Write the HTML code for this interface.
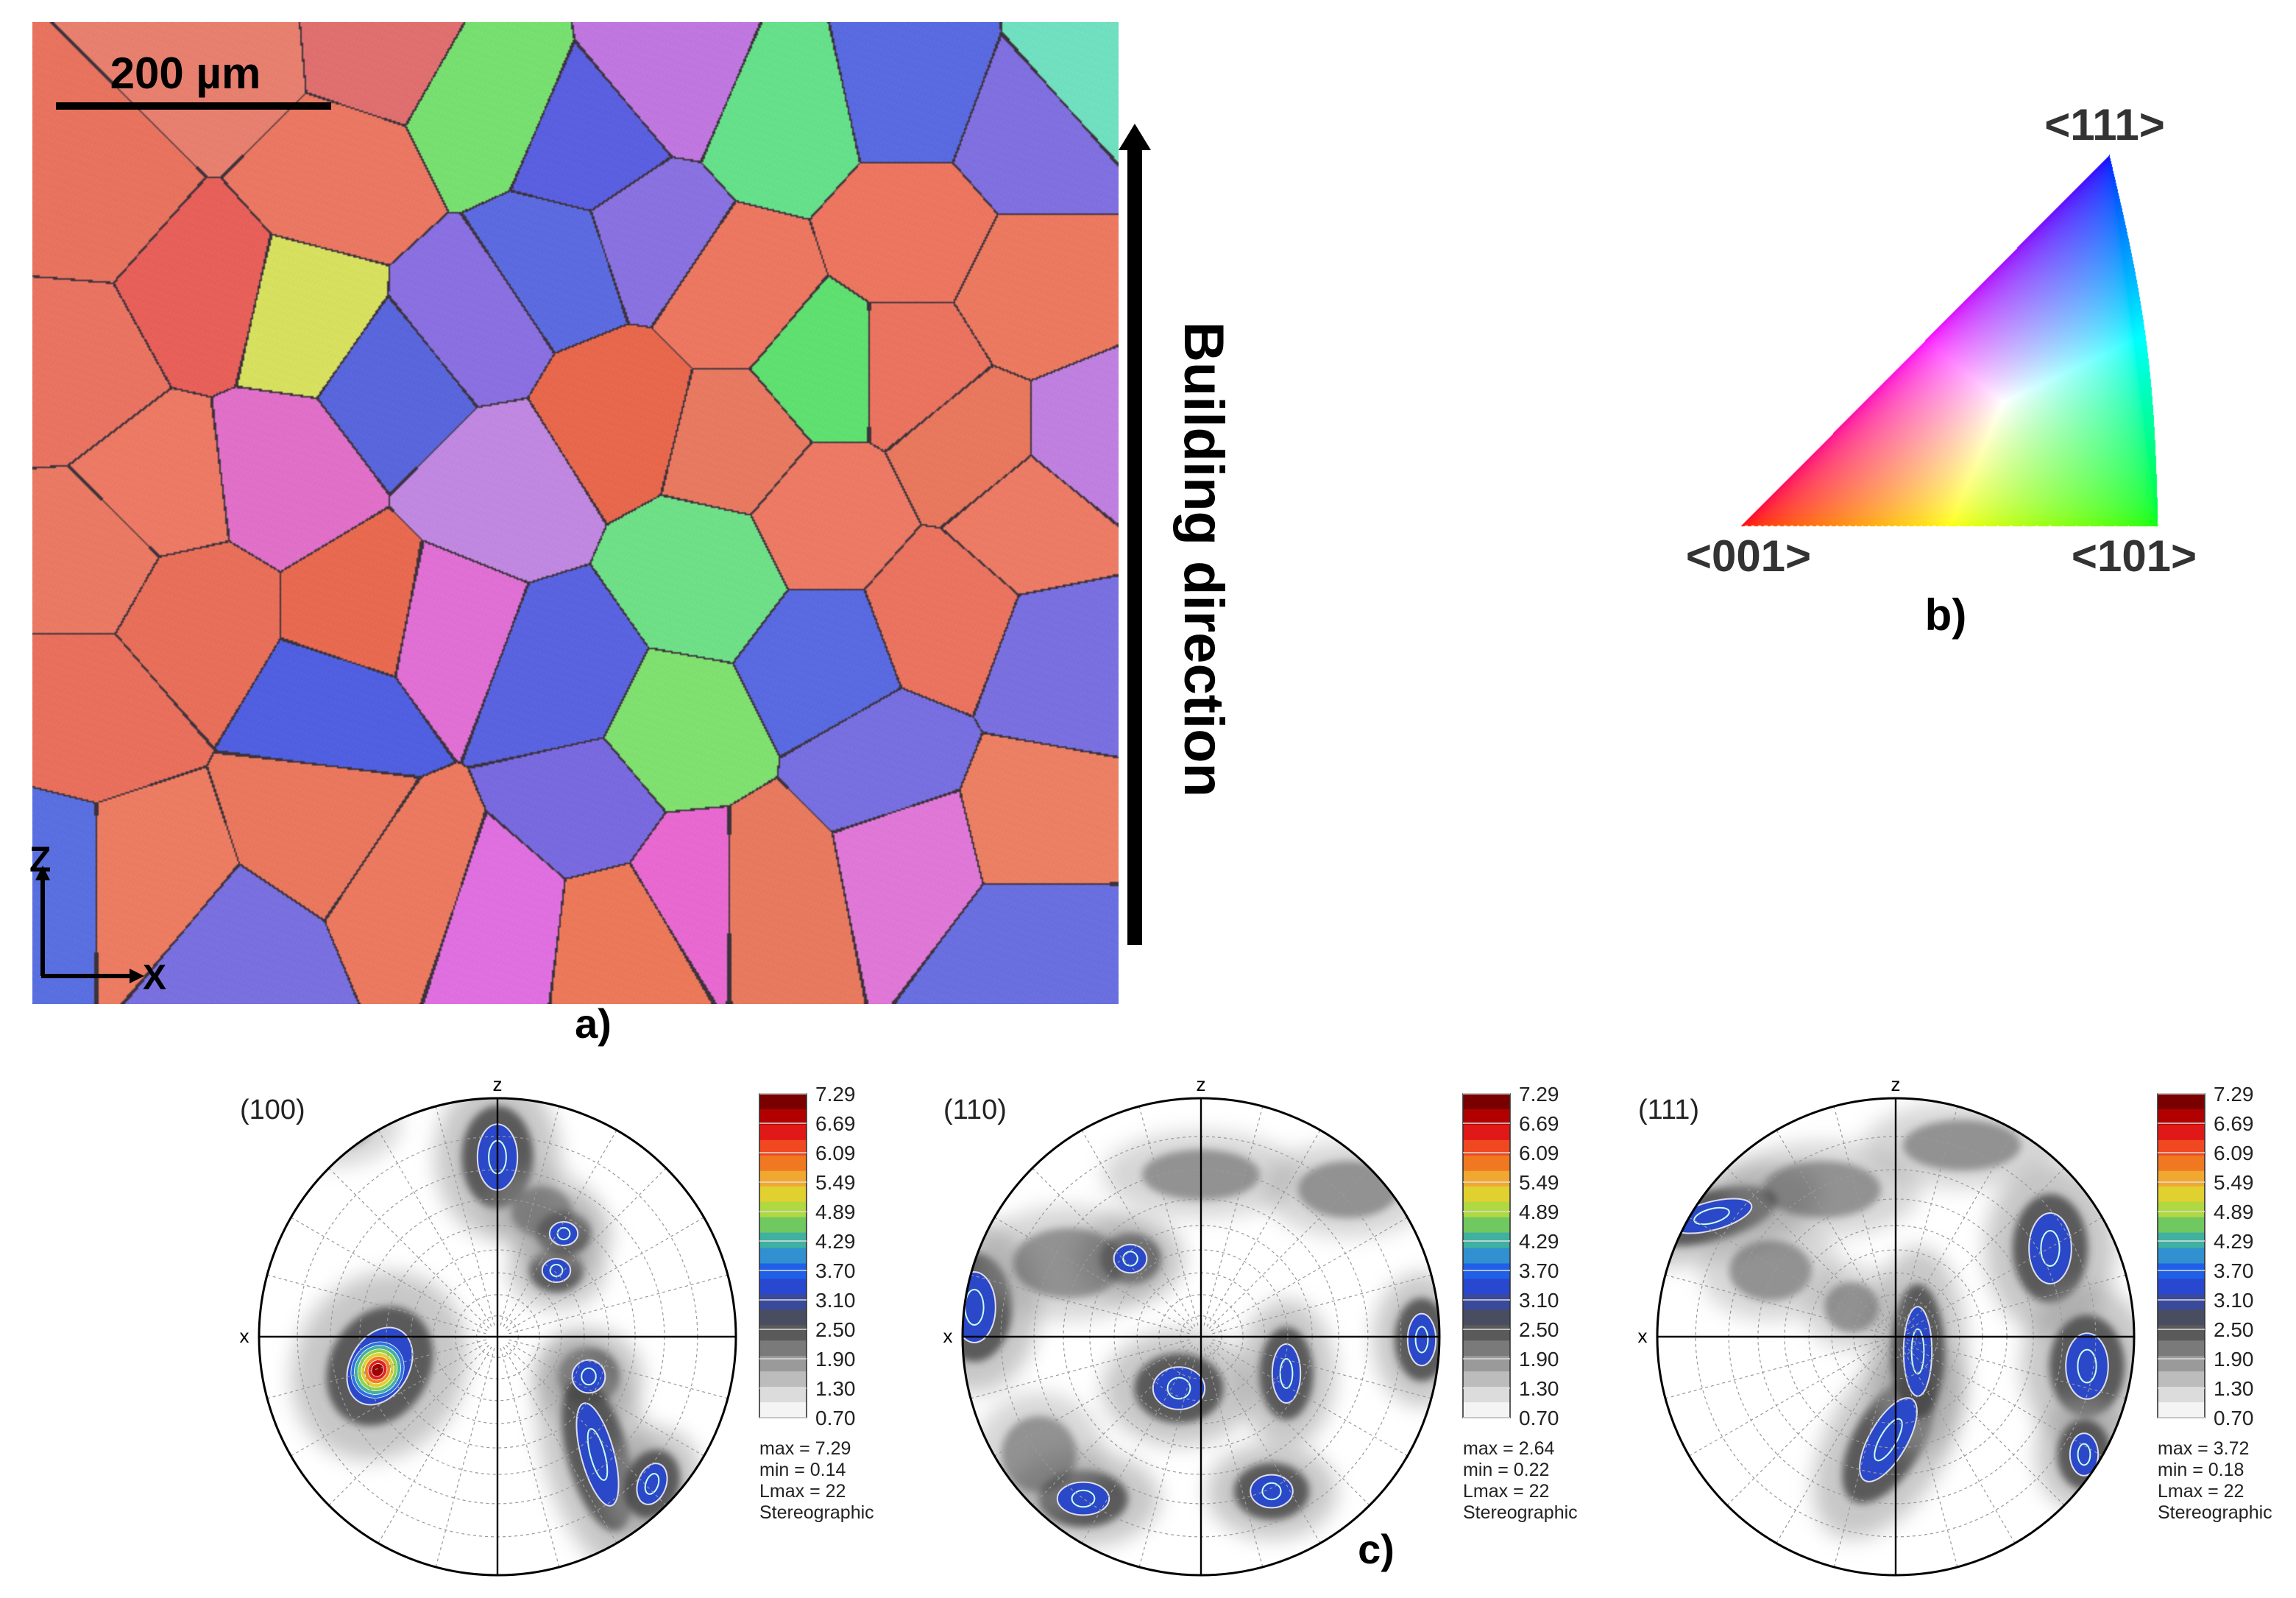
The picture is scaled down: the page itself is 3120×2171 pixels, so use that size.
<!DOCTYPE html>
<html><head><meta charset="utf-8"><style>
html,body{margin:0;padding:0;background:#fff;}
#wrap{position:relative;width:3120px;height:2171px;overflow:hidden;}
#ebsd{position:absolute;left:44px;top:30px;width:1476px;height:1334px;}
#ipf{position:absolute;left:2360px;top:200px;width:580px;height:520px;}
#svg{position:absolute;left:0;top:0;}
text{font-family:"Liberation Sans",sans-serif;}
</style></head><body>
<div id="wrap">
<canvas id="ebsd" width="738" height="667"></canvas>
<canvas id="ipf" width="580" height="520"></canvas>
<svg id="svg" width="3120" height="2171" viewBox="0 0 1560 1085.5" xmlns="http://www.w3.org/2000/svg">
<defs>
<filter id="blur6" x="-50%" y="-50%" width="200%" height="200%"><feGaussianBlur stdDeviation="7"/></filter>
<filter id="blur3" x="-50%" y="-50%" width="200%" height="200%"><feGaussianBlur stdDeviation="2.5"/></filter>
</defs>
<g>
<line x1="38" y1="72" x2="225" y2="72" stroke="#000" stroke-width="5"/>
<text x="126" y="60" font-size="30" font-weight="bold" text-anchor="middle" fill="#000">200 µm</text>
</g>
<g>
<line x1="29" y1="595" x2="29" y2="663" stroke="#000" stroke-width="3"/>
<line x1="28" y1="663" x2="92" y2="663" stroke="#000" stroke-width="3"/>
<polygon points="29,588 24,598 34,598" fill="#000"/>
<polygon points="98,663 88,658 88,668" fill="#000"/>
<text x="20" y="592" font-size="24" font-weight="bold" fill="#000">Z</text>
<text x="97" y="672" font-size="24" font-weight="bold" fill="#000">X</text>
</g>
<text x="403" y="705" font-size="28" font-weight="bold" text-anchor="middle" fill="#000">a)</text>
<g>
<line x1="771" y1="100" x2="771" y2="642" stroke="#000" stroke-width="10"/>
<polygon points="771,84 760,102 782,102" fill="#000"/>
<text transform="translate(805,380) rotate(90)" font-size="38" font-weight="bold" text-anchor="middle" fill="#000">Building direction</text>
</g>
<g>
<text x="1430" y="95" font-size="30" font-weight="bold" text-anchor="middle" fill="#333">&lt;111&gt;</text>
<text x="1188" y="388" font-size="30" font-weight="bold" text-anchor="middle" fill="#333">&lt;001&gt;</text>
<text x="1450" y="388" font-size="30" font-weight="bold" text-anchor="middle" fill="#333">&lt;101&gt;</text>
<text x="1322" y="428" font-size="30" font-weight="bold" text-anchor="middle" fill="#000">b)</text>
</g>
<g id="pfs"></g>
<text x="935" y="1062" font-size="28" font-weight="bold" text-anchor="middle" fill="#000">c)</text>
</svg>
</div>
<script>
// ---- EBSD grain map seeds (display coords) ----
const grainX=[60,140,110,60,100,220,250,190,230,330,380,320,270,400,460,530,620,700,700,620,500,420,340,300,230,205,480,560,560,640,700,720,460,400,420,520,620,700,700,340,280,160,60,50,620,440,745,500,130,560,660,150,380,600,740,30,260,470];
const grainY=[130,200,330,480,600,560,420,320,120,70,180,220,260,100,50,80,60,90,200,250,200,280,330,430,480,215,390,350,450,420,350,450,500,550,630,600,580,560,640,620,600,650,380,250,160,160,50,300,420,250,300,40,460,520,300,600,30,600];
const grainC=["#e8735e","#e8605a","#ec7a64","#e8705c","#ec7c62","#ea785e","#e86a50","#e070c8","#ea7862","#78e070","#5c6ce0","#8a70e0","#5a66dc","#5a60e0","#c078e0","#66e08a","#5a6ae0","#8070e0","#ec7a60","#ea7460","#ec7862","#e8684e","#c088e0","#e070d4","#5060e0","#d8e060","#70e088","#ec7a64","#5a6ae0","#ea7460","#ec7c66","#7a70e0","#80e070","#7a6ae0","#ec7a5a","#e87a60","#e078d8","#ec8064","#6a70e0","#e070e0","#ec7a60","#7a70e0","#ea7a64","#ea7462","#ec7660","#8a72e0","#70e0c0","#e87a62","#e8705a","#60e070","#e8785e","#e88070","#5a64e0","#7870e0","#c080e0","#5a70e0","#e07070","#e86ad0"];
(function(){
const cv=document.getElementById('ebsd'),ctx=cv.getContext('2d');
const W=cv.width,H=cv.height,img=ctx.createImageData(W,H),d=img.data;
const n=grainX.length,cols=grainC.map(h=>[parseInt(h.substr(1,2),16),parseInt(h.substr(3,2),16),parseInt(h.substr(5,2),16)]);
const sx=grainX.map(v=>v-22),sy=grainY.map(v=>v-15);
for(let y=0;y<H;y++){for(let x=0;x<W;x++){
 const px=x*738/W,py=y*667/H;let b1=1e9,b2=1e9,bi=0;
 for(let i=0;i<n;i++){const dx=px-sx[i],dy=py-sy[i];const q=dx*dx+dy*dy;if(q<b1){b2=b1;b1=q;bi=i;}else if(q<b2)b2=q;}
 const edge=(Math.sqrt(b2)-Math.sqrt(b1))<1.2;const c=cols[bi];const o=(y*W+x)*4;
 const sh=((x*7+y*13)%17)/17*10-5;
 d[o]=edge?60:Math.min(255,c[0]+sh);d[o+1]=edge?50:Math.min(255,c[1]+sh);d[o+2]=edge?60:Math.min(255,c[2]+sh);d[o+3]=255;}}
ctx.putImageData(img,0,0);
})();
// ---- IPF triangle (display coords, canvas origin 1180,100, scale 2) ----
(function(){
const cv=document.getElementById('ipf'),ctx=cv.getContext('2d');
const W=cv.width,H=cv.height,img=ctx.createImageData(W,H),d=img.data;
const A=[1183,357],B=[1466,357],C=[1433,105];
const den=(B[1]-C[1])*(A[0]-C[0])+(C[0]-B[0])*(A[1]-C[1]);
for(let y=0;y<H;y++)for(let x=0;x<W;x++){
 const px=1180+x/2,py=100+y/2;
 let a=((B[1]-C[1])*(px-C[0])+(C[0]-B[0])*(py-C[1]))/den;
 let b=((C[1]-A[1])*(px-C[0])+(A[0]-C[0])*(py-C[1]))/den;
 let c=1-a-b;
 // allow slight bulge on right edge
 const bulge=a<0&&a>-0.03*Math.sin(Math.PI*Math.max(0,Math.min(1,c)));
 if((a<0&&!bulge)||b<0||c<0)continue;
 a=Math.max(a,0);
 const m=Math.max(a,b,c);
 const r=Math.sqrt(a/m),g=Math.sqrt(b/m),bl=Math.sqrt(c/m);
 const o=(y*W+x)*4;d[o]=255*r;d[o+1]=255*g;d[o+2]=255*bl;d[o+3]=255;}
ctx.putImageData(img,0,0);
})();
// ---- pole figure data ----
const pfTitles=["(100)","(110)","(111)"];
const pfCx=[338,816,1288];
const pfMax=["7.29","2.64","3.72"];
const pfMin=["0.14","0.22","0.18"];
const cbLabels=["7.29","6.69","6.09","5.49","4.89","4.29","3.70","3.10","2.50","1.90","1.30","0.70"];
const cbColors=["#7a0000","#b00000","#e01818","#f04820","#f07820","#f0a830","#e0d030","#b0d840","#70c860","#40b0a0","#3090d0","#2060e8","#2848d0","#3a4a9a","#484e60","#5a5a5a","#7a7a7a","#9a9a9a","#bcbcbc","#dcdcdc","#f4f4f4"];
const blobFig=[0,0,0,0,0,0,0,0,0, 1,1,1,1,1,1,1,1,1,1,1, 2,2,2,2,2,2,2,2,2,2];
const blobDx=[-80,0,62,68,105,40,45,-110,30, -154,-48,-15,58,150,-80,48,-90,0,-110,100, -125,105,130,-5,15,128,-50,-85,45,-30];
const blobDy=[20,-122,27,80,100,-45,-70,-145,-85, -20,-53,35,25,2,110,105,-50,-110,80,-100, -82,-60,20,70,10,80,-100,-45,-130,-20];
const blobRx=[25,17,14,14,12,12,12,18,14, 18,14,22,12,12,22,18,28,30,18,25, 35,18,18,16,12,12,30,20,30,12];
const blobRy=[35,28,14,45,18,10,10,12,12, 30,12,18,25,22,14,14,18,12,20,14, 12,30,28,40,38,18,14,15,12,12];
const blobAng=[30,0,0,-15,20,0,0,0,0, 0,0,0,0,0,0,0,0,0,0,0, -15,0,0,30,0,0,0,0,0,0];
const blobLv=[2,1,1,1,1,1,1,0,0, 1,1,1,1,1,1,1,0,0,0,0, 1,1,1,1,1,1,0,0,0,0];
(function(){
const NS="http://www.w3.org/2000/svg",root=document.getElementById('pfs');
function el(t,a,p){const e=document.createElementNS(NS,t);for(const k in a)e.setAttribute(k,a[k]);(p||root).appendChild(e);return e;}
const CY=908,R=162;
for(let f=0;f<3;f++){
 const cx=pfCx[f];
 const g=el('g',{});
 
 
 const cp=el('clipPath',{id:'clip'+f},g);el('circle',{cx:cx,cy:CY,r:R},cp);
 const inner=el('g',{'clip-path':'url(#clip'+f+')'},g);
 el('circle',{cx:cx,cy:CY,r:R,fill:'#fff'},inner);
 for(let i=0;i<blobFig.length;i++){if(blobFig[i]!==f)continue;
  const bx=cx+blobDx[i],by=CY+blobDy[i];
  const e=el('ellipse',{cx:bx,cy:by,rx:blobRx[i]*1.9+10,ry:blobRy[i]*1.6+10,fill:'#9a9a9a',opacity:blobLv[i]?0.55:0.4,filter:'url(#blur6)',transform:'rotate('+blobAng[i]+' '+bx+' '+by+')'},inner);
  
  
  const e2=el('ellipse',{cx:bx,cy:by,rx:blobRx[i]*1.2+4,ry:blobRy[i]*1.1+4,fill:'#404040',opacity:blobLv[i]?0.8:0.45,filter:'url(#blur3)',transform:'rotate('+blobAng[i]+' '+bx+' '+by+')'},inner);
  
  
 }
 for(let i=0;i<blobFig.length;i++){if(blobFig[i]!==f||blobLv[i]<1)continue;
  const bx=cx+blobDx[i],by=CY+blobDy[i],tr='rotate('+blobAng[i]+' '+bx+' '+by+')';
  const e=el('ellipse',{cx:bx,cy:by,rx:blobRx[i]*0.8,ry:blobRy[i]*0.8,fill:'#2a48c8',stroke:'#dde',"stroke-width":1,transform:tr},inner);
  
  
  if(blobLv[i]===2){const hc=["#3070e0","#40b0a0","#90d050","#e0d030","#f08020","#e02020","#a00000"];
   for(let k=0;k<hc.length;k++){const s=0.7-k*0.09;el('ellipse',{cx:bx,cy:by+3,rx:blobRx[i]*s,ry:blobRy[i]*s*0.8,fill:hc[k],stroke:'#fff','stroke-width':0.4,transform:tr},inner);}
  } else {el('ellipse',{cx:bx,cy:by,rx:blobRx[i]*0.35,ry:blobRy[i]*0.4,fill:'none',stroke:'#cfe','stroke-width':1,transform:tr},inner);}
 }
 for(let a=10;a<90;a+=10){const r=R*Math.tan(a*Math.PI/360);el('circle',{cx:cx,cy:CY,r:r,fill:'none',stroke:'#999','stroke-width':0.6,'stroke-dasharray':'2,2'},inner);}
 for(let a=0;a<360;a+=15){const t=a*Math.PI/180;el('line',{x1:cx+8*Math.cos(t),y1:CY+8*Math.sin(t),x2:cx+R*Math.cos(t),y2:CY+R*Math.sin(t),stroke:'#999','stroke-width':0.6,'stroke-dasharray':'2,2'},inner);}
 el('line',{x1:cx-R,y1:CY,x2:cx+R,y2:CY,stroke:'#000','stroke-width':1.2},g);
 el('line',{x1:cx,y1:CY-R,x2:cx,y2:CY+R,stroke:'#000','stroke-width':1.2},g);
 el('circle',{cx:cx,cy:CY,r:R,fill:'none',stroke:'#000','stroke-width':1.5},g);
 const tz=el('text',{x:cx,y:CY-R-5,'font-size':13,'text-anchor':'middle',fill:'#000'},g);tz.textContent='z';
 const tx=el('text',{x:cx-R-10,y:CY+4,'font-size':13,'text-anchor':'middle',fill:'#000'},g);tx.textContent='x';
 const tt=el('text',{x:cx-175,y:760,'font-size':19,fill:'#222'},g);tt.textContent=pfTitles[f];
 
 
 const bx=cx+178,top=743,h=220,bh=h/cbColors.length;
 const cb=el('g',{},g);
 
 
 for(let k=0;k<cbColors.length;k++)el('rect',{x:bx,y:top+k*bh,width:32,height:bh+0.5,fill:cbColors[k]},cb);
 el('rect',{x:bx,y:top,width:32,height:h,fill:'none',stroke:'#333','stroke-width':0.8},cb);
 for(let k=0;k<cbLabels.length;k++){const yy=top+k*h/(cbLabels.length-1);
  el('line',{x1:bx,y1:yy,x2:bx+32,y2:yy,stroke:'#ddd','stroke-width':0.8},cb);
  const lt=el('text',{x:bx+38,y:yy+5,'font-size':14,fill:'#222'},cb);lt.textContent=cbLabels[k];}
 const info=['max = '+pfMax[f],'min = '+pfMin[f],'Lmax = 22','Stereographic'];
 for(let k=0;k<4;k++){const it=el('text',{x:bx,y:988+k*14.5,'font-size':12.5,fill:'#222'},g);it.textContent=info[k];}
}
})();
</script>
</body></html>
